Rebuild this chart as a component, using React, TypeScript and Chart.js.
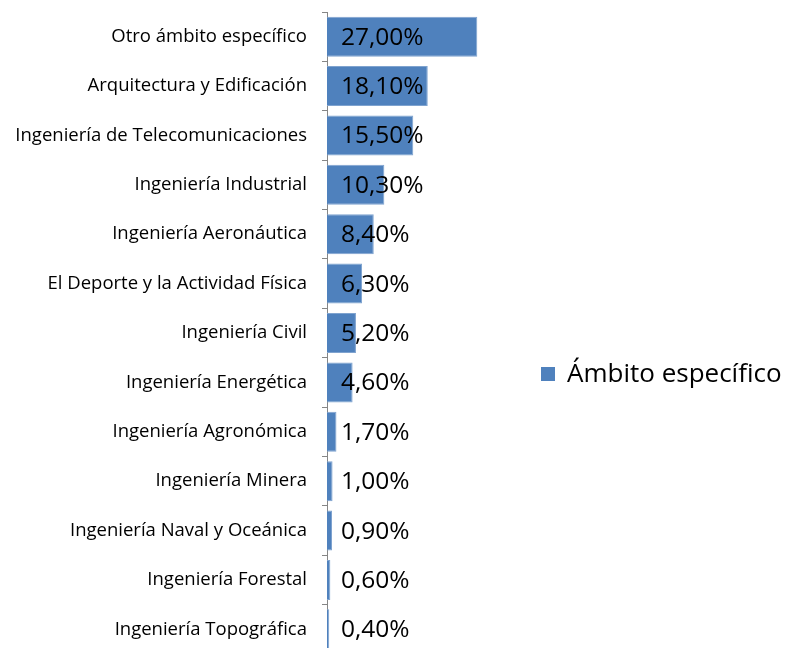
import React, { useEffect, useRef } from "react";
import { Chart, registerables } from "chart.js";

Chart.register(...registerables);

const categories = [
  "Otro ámbito específico",
  "Arquitectura y Edificación",
  "Ingeniería de Telecomunicaciones",
  "Ingeniería Industrial",
  "Ingeniería Aeronáutica",
  "El Deporte y la Actividad Física",
  "Ingeniería Civil",
  "Ingeniería Energética",
  "Ingeniería Agronómica",
  "Ingeniería Minera",
  "Ingeniería Naval y Oceánica",
  "Ingeniería Forestal",
  "Ingeniería Topográfica",
];
const values = [27.0, 18.1, 15.5, 10.3, 8.4, 6.3, 5.2, 4.6, 1.7, 1.0, 0.9, 0.6, 0.4];
const seriesName = "Ámbito específico";
const BAR_COLOR = "#4F81BD";
const FONT = "'Open Sans', Lato, sans-serif";

const fmt = (v: number) => v.toFixed(2).replace(".", ",") + "%";

export default function App() {
  const ref = useRef<HTMLCanvasElement | null>(null);
  useEffect(() => {
    if (!ref.current) return;
    const labelPlugin = {
      id: "labelsAndLegend",
      afterDatasetsDraw(chart: any) {
        const ctx = chart.ctx;
        const meta = chart.getDatasetMeta(0);
        ctx.save();
        ctx.fillStyle = "#000";
        ctx.font = `24.5px ${FONT}`;
        ctx.textAlign = "left";
        ctx.textBaseline = "middle";
        meta.data.forEach((el: any, i: number) => {
          ctx.fillText(fmt(values[i]), chart.chartArea.left + 14, el.y + 1);
        });
        // legend
        ctx.fillStyle = BAR_COLOR;
        ctx.fillRect(541, 367, 14, 14);
        ctx.fillStyle = "#000";
        ctx.font = `26px ${FONT}`;
        ctx.fillText(seriesName, 567, 375);
        ctx.restore();
      },
    };
    const chart = new Chart(ref.current, {
      type: "bar",
      data: {
        labels: categories,
        datasets: [
          {
            label: seriesName,
            data: values,
            backgroundColor: BAR_COLOR,
            borderColor: "#7FA3CF",
            borderWidth: 1,
            categoryPercentage: 1,
            barPercentage: 0.81,
          },
        ],
      },
      options: {
        indexAxis: "y",
        animation: false,
        responsive: false,
        layout: { padding: { top: 12, bottom: 6, left: 0, right: 294 } },
        plugins: { legend: { display: false }, tooltip: { enabled: false } },
        scales: {
          x: { display: false, min: 0, max: 30 },
          y: {
            grid: {
              offset: true,
              drawOnChartArea: false,
              tickLength: 5,
              color: "#868686",
            },
            border: { color: "#868686", width: 1 },
            ticks: {
              color: "#000",
              font: { family: FONT, size: 18.5 },
              padding: 15,
            },
            afterFit(scale: any) {
              scale.width = 327;
              scale.paddingTop = 0;
              scale.paddingBottom = 0;
            },
          },
        },
      },
      plugins: [labelPlugin],
    });
    return () => chart.destroy();
  }, []);
  return (
    <div style={{ position: "absolute", left: 0, top: 0, width: 788, height: 648, overflow: "hidden", background: "#fff" }}>
      <canvas ref={ref} width={788} height={660} style={{ display: "block" }} />
    </div>
  );
}
